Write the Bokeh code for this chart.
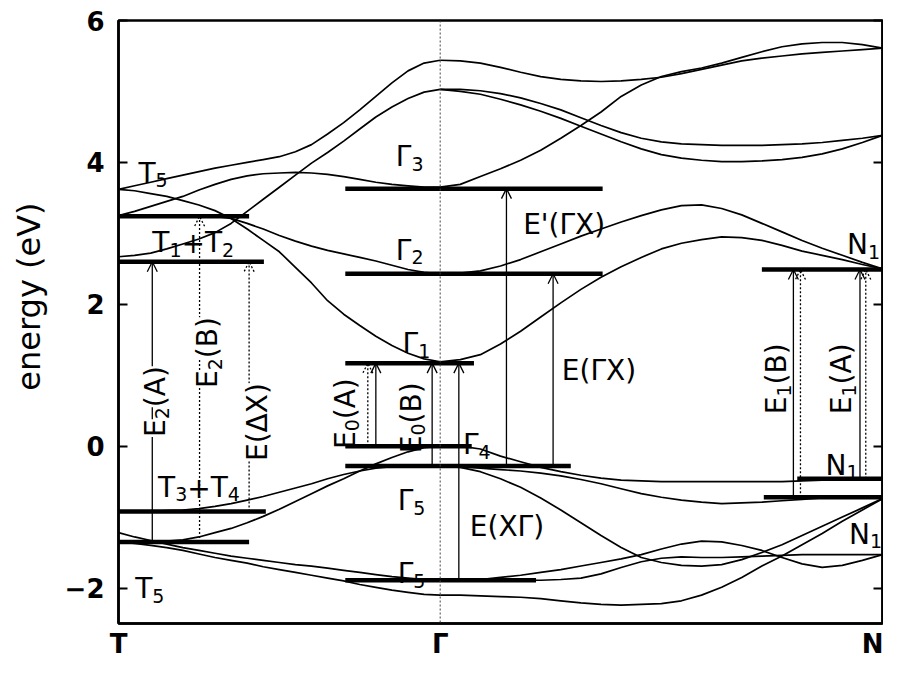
from math import pi
from bokeh.plotting import figure
from bokeh.models import Range1d, LinearAxis, FixedTicker, Label, Arrow, OpenHead, Span
from bokeh.embed import file_html
from bokeh.resources import INLINE

# ---------------- data ----------------
# k-path coordinate: T = 0, Gamma = 1, N = 2.375
k_TG = [0.0, 0.05, 0.1, 0.15, 0.2, 0.25, 0.3, 0.35, 0.4, 0.45, 0.5,
        0.55, 0.6, 0.65, 0.7, 0.75, 0.8, 0.85, 0.9, 0.95, 1.0]
k_GN = [1.0, 1.0625, 1.125, 1.1875, 1.25, 1.3125, 1.375, 1.4375, 1.5, 1.5625, 1.625, 1.6875,
        1.75, 1.8125, 1.875, 1.9375, 2.0, 2.0625, 2.125, 2.1875, 2.25, 2.3125, 2.375]
k_points = [0.0, 1.0, 2.375]
k_point_labels = ["T", "Γ", "N"]
energy_ticks = [-2, 0, 2, 4, 6]

# bands along T -> Gamma (eV)
tg_c1 = [2.67, 2.69, 2.72, 2.78, 2.85, 2.92, 3.01, 3.14, 3.31, 3.48, 3.65,
         3.82, 3.99, 4.14, 4.30, 4.47, 4.64, 4.78, 4.90, 4.99, 5.03]
tg_c2 = [3.62, 3.67, 3.72, 3.77, 3.82, 3.87, 3.92, 3.96, 4.00, 4.04, 4.08,
         4.15, 4.25, 4.40, 4.56, 4.74, 4.93, 5.12, 5.29, 5.40, 5.44]
tg_c3 = [3.62, 3.60, 3.56, 3.52, 3.46, 3.40, 3.32, 3.21, 3.06, 2.90, 2.74,
         2.52, 2.30, 2.05, 1.86, 1.70, 1.55, 1.42, 1.31, 1.23, 1.19]
tg_c4 = [3.25, 3.31, 3.38, 3.45, 3.52, 3.61, 3.69, 3.76, 3.81, 3.84, 3.85,
         3.86, 3.85, 3.83, 3.80, 3.76, 3.72, 3.69, 3.67, 3.65, 3.65]
tg_c5 = [3.25, 3.25, 3.25, 3.25, 3.25, 3.25, 3.24, 3.21, 3.14, 3.06, 2.97,
         2.89, 2.82, 2.76, 2.71, 2.66, 2.61, 2.55, 2.49, 2.45, 2.43]
tg_v1 = [-1.35, -1.35, -1.35, -1.34, -1.32, -1.28, -1.22, -1.16, -1.08, -0.99, -0.89,
         -0.78, -0.67, -0.56, -0.46, -0.35, -0.25, -0.16, -0.08, -0.02, 0.00]
tg_v2 = [-0.92, -0.92, -0.92, -0.91, -0.90, -0.88, -0.85, -0.81, -0.76, -0.71, -0.65,
         -0.59, -0.53, -0.46, -0.40, -0.35, -0.31, -0.29, -0.28, -0.28, -0.28]
tg_v3 = [-1.22, -1.28, -1.33, -1.38, -1.43, -1.47, -1.51, -1.55, -1.58, -1.61, -1.64,
         -1.67, -1.69, -1.72, -1.75, -1.78, -1.81, -1.84, -1.86, -1.88, -1.89]
tg_v4 = [-1.35, -1.37, -1.40, -1.43, -1.47, -1.52, -1.57, -1.61, -1.65, -1.70, -1.74,
         -1.78, -1.82, -1.86, -1.90, -1.95, -1.99, -2.03, -2.06, -2.09, -2.10]

# bands along Gamma -> N (eV)
gn_c1 = [1.19, 1.22, 1.29, 1.44, 1.62, 1.82, 2.02, 2.21, 2.38, 2.53, 2.66, 2.78,
         2.86, 2.91, 2.95, 2.94, 2.90, 2.83, 2.75, 2.69, 2.63, 2.56, 2.50]
gn_c2 = [2.43, 2.44, 2.47, 2.54, 2.63, 2.74, 2.85, 2.96, 3.06, 3.16, 3.25, 3.33,
         3.39, 3.40, 3.35, 3.26, 3.14, 3.02, 2.90, 2.79, 2.69, 2.59, 2.50]
gn_c3 = [3.65, 3.69, 3.80, 3.91, 4.03, 4.17, 4.34, 4.52, 4.71, 4.93, 5.09, 5.21,
         5.28, 5.33, 5.40, 5.48, 5.56, 5.63, 5.67, 5.69, 5.69, 5.66, 5.61]
gn_c4 = [5.44, 5.43, 5.40, 5.34, 5.27, 5.21, 5.17, 5.15, 5.14, 5.15, 5.17, 5.20,
         5.25, 5.31, 5.37, 5.43, 5.47, 5.50, 5.53, 5.55, 5.57, 5.59, 5.61]
gn_c5 = [5.03, 5.03, 5.01, 4.97, 4.91, 4.83, 4.74, 4.63, 4.52, 4.42, 4.34, 4.29,
         4.26, 4.25, 4.24, 4.24, 4.24, 4.25, 4.26, 4.28, 4.31, 4.34, 4.38]
gn_c6 = [5.03, 5.00, 4.96, 4.89, 4.81, 4.72, 4.62, 4.51, 4.40, 4.29, 4.19, 4.11,
         4.06, 4.03, 4.01, 4.01, 4.02, 4.04, 4.07, 4.12, 4.19, 4.28, 4.38]
gn_v1 = [0.00, 0.00, -0.04, -0.14, -0.22, -0.30, -0.36, -0.41, -0.45, -0.48, -0.49, -0.50,
         -0.50, -0.50, -0.50, -0.50, -0.50, -0.50, -0.49, -0.48, -0.47, -0.47, -0.46]
gn_v2 = [-0.28, -0.29, -0.31, -0.33, -0.35, -0.38, -0.42, -0.47, -0.53, -0.60, -0.67, -0.72,
         -0.76, -0.79, -0.81, -0.80, -0.79, -0.77, -0.75, -0.73, -0.72, -0.71, -0.71]
gn_v3 = [-0.28, -0.30, -0.36, -0.46, -0.58, -0.73, -0.90, -1.08, -1.26, -1.43, -1.57, -1.64,
         -1.68, -1.69, -1.67, -1.60, -1.50, -1.39, -1.26, -1.13, -1.00, -0.87, -0.74]
gn_v4 = [-1.89, -1.89, -1.88, -1.85, -1.82, -1.78, -1.74, -1.69, -1.64, -1.59, -1.53, -1.45,
         -1.38, -1.34, -1.35, -1.40, -1.47, -1.57, -1.66, -1.71, -1.68, -1.61, -1.53]
gn_v5 = [-2.10, -2.10, -2.11, -2.12, -2.13, -2.15, -2.18, -2.21, -2.23, -2.24, -2.23, -2.22,
         -2.18, -2.10, -1.99, -1.85, -1.69, -1.55, -1.39, -1.23, -1.06, -0.90, -0.74]
gn_v6 = [-1.89, -1.89, -1.89, -1.89, -1.89, -1.89, -1.88, -1.86, -1.80, -1.71, -1.63, -1.58,
         -1.56, -1.57, -1.57, -1.56, -1.55, -1.54, -1.53, -1.53, -1.53, -1.53, -1.53]

# marked levels (eV) and their k extent
level_E  = [3.24, 2.60, -0.92, -1.35, 3.63, 2.43, 1.17, 0.00, -0.28, -1.89, 2.49, -0.46, -0.72]
level_k0 = [0.0, 0.0, 0.0, 0.0, 0.705, 0.705, 0.705, 0.705, 0.705, 0.705, 2.0, 2.11, 2.006]
level_k1 = [0.406, 0.452, 0.458, 0.406, 1.505, 1.505, 1.105, 1.098, 1.406, 1.298, 2.375, 2.375, 2.375]

# transitions (arrows)
arrow_k    = [0.105, 0.252, 0.406, 0.775, 0.80, 0.975, 1.058, 1.206, 1.351, 2.098, 2.12, 2.305, 2.323]
arrow_from = [-1.35, -1.35, -0.92, 0.00, 0.00, -0.28, -1.89, -0.28, -0.28, -0.72, -0.72, -0.46, -0.46]
arrow_to   = [2.60, 3.24, 2.60, 1.17, 1.17, 1.17, 1.17, 3.63, 2.43, 2.49, 2.49, 2.49, 2.49]
arrow_dot  = [False, True, True, True, False, False, False, False, False, False, True, False, True]

FONT = "DejaVu Sans"
NB = "\u00a0"

p = figure(width=883, height=661, output_backend="svg", toolbar_location=None,
           x_range=Range1d(0, 2.375), y_range=Range1d(-2.5, 6))
p.min_border_left = 118
p.min_border_right = 1
p.min_border_top = 20
p.min_border_bottom = 37
p.background_fill_color = "white"
p.border_fill_color = "white"
p.outline_line_color = "black"
p.outline_line_width = 2.5
p.xgrid.visible = False
p.ygrid.visible = False

xa = p.xaxis[0]
xa.ticker = FixedTicker(ticks=k_points)
xa.major_label_overrides = {k: lab for k, lab in zip(k_points, k_point_labels)}
xa.major_tick_in = 0
xa.major_tick_out = 0
xa.minor_tick_in = 0
xa.minor_tick_out = 0
xa.axis_line_width = 2.5
xa.major_label_standoff = 5
xa.major_label_text_font = FONT
xa.major_label_text_font_size = "26px"
xa.major_label_text_font_style = "bold"
xa.major_label_text_color = "black"
xa.major_label_text_line_height = 0.9

ya = p.yaxis[0]
ya.ticker = FixedTicker(ticks=energy_ticks)
ya.major_tick_in = 9
ya.major_tick_out = 0
ya.minor_tick_in = 0
ya.minor_tick_out = 0
ya.major_tick_line_width = 2
ya.axis_line_width = 2.5
ya.major_label_standoff = 14
ya.major_label_text_font = FONT
ya.major_label_text_font_size = "26px"
ya.major_label_text_font_style = "bold"
ya.major_label_text_color = "black"
ya.axis_label = NB * 5 + "energy (eV)"
ya.axis_label_standoff = 14
ya.axis_label_text_font = FONT
ya.axis_label_text_font_size = "32px"
ya.axis_label_text_font_style = "normal"
ya.axis_label_text_color = "black"

ra = LinearAxis(ticker=FixedTicker(ticks=energy_ticks),
                major_label_overrides={t: "" for t in energy_ticks},
                major_tick_in=9, major_tick_out=0, minor_tick_in=0, minor_tick_out=0,
                major_tick_line_width=2, axis_line_width=2.5, major_label_standoff=0)
p.add_layout(ra, "right")

p.add_layout(Span(location=1.0, dimension="height", line_dash="2 2", line_width=1, line_color="#444444"))

for b in [tg_c1, tg_c2, tg_c3, tg_c4, tg_c5, tg_v1, tg_v2, tg_v3, tg_v4]:
    p.line(k_TG, b, line_color="black", line_width=1.7, line_join="round")
for b in [gn_c1, gn_c2, gn_c3, gn_c4, gn_c5, gn_c6, gn_v1, gn_v2, gn_v3, gn_v4, gn_v5, gn_v6]:
    p.line(k_GN, b, line_color="black", line_width=1.7, line_join="round")

p.segment(x0=level_k0, y0=level_E, x1=level_k1, y1=level_E, line_color="black", line_width=4.5)

for k, e0, e1, dot in zip(arrow_k, arrow_from, arrow_to, arrow_dot):
    dash = "2 2" if dot else "solid"
    head = OpenHead(size=10, line_width=1.3, line_color="black", line_dash=dash)
    p.add_layout(Arrow(end=head, x_start=k, y_start=e0, x_end=k, y_end=e1,
                       line_width=1.3, line_color="black", line_dash=dash))

WID = {'E': .632, '(': .39, ')': .39, 'A': .684, 'B': .686, 'Γ': .557, 'X': .685, 'Δ': .684,
       "'": .275, 'T': .611, '+': .838, 'N': .748}
for d in "0123456789":
    WID[d] = .636


def text_w(s, fs):
    return sum(WID.get(c, .6) for c in s) * fs


def add_text(parts, k, e, rot=False, fs=28, sfs=19, drop=7, bg=None):
    off = 0.0
    for s, sub in parts:
        f = sfs if sub else fs
        kw = dict(x=k, y=e, text=s, text_font=FONT, text_font_size=f"{f}px", text_color="black",
                  text_align="left", text_baseline="alphabetic")
        if bg:
            kw["background_fill_color"] = bg
        if rot:
            kw.update(angle=pi / 2, x_offset=(drop if sub else 0), y_offset=off)
        else:
            kw.update(x_offset=off, y_offset=(-drop if sub else 0))
        p.add_layout(Label(**kw))
        off += text_w(s, f)


# horizontal state labels
add_text([("T", 0), ("5", 1)], 0.062, 3.85)
add_text([("T", 0), ("1", 1), ("+", 0), ("T", 0), ("2", 1)], 0.105, 2.87)
add_text([("Γ", 0), ("3", 1)], 0.862, 4.08)
add_text([("Γ", 0), ("2", 1)], 0.862, 2.76)
add_text([("Γ", 0), ("1", 1)], 0.883, 1.44)
add_text([("Γ", 0), ("4", 1)], 1.071, 0.02)
add_text([("Γ", 0), ("5", 1)], 0.868, -0.77)
add_text([("Γ", 0), ("5", 1)], 0.868, -1.80)
add_text([("T", 0), ("3", 1), ("+", 0), ("T", 0), ("4", 1)], 0.123, -0.58)
add_text([("T", 0), ("5", 1)], 0.052, -2.01)
add_text([("N", 0), ("1", 1)], 2.265, 2.84)
add_text([("N", 0), ("1", 1)], 2.198, -0.27)
add_text([("N", 0), ("1", 1)], 2.271, -1.24)
add_text([("E(ΓX)", 0)], 1.378, 1.06)
add_text([("E'(ΓX)", 0)], 1.258, 3.13)
add_text([("E(XΓ)", 0)], 1.092, -1.13)

# rotated transition labels
add_text([("E", 0), ("2", 1), ("(A)", 0)], 0.114, 0.13, rot=True, bg="white")
add_text([("E", 0), ("2", 1), ("(B)", 0)], 0.277, 0.82, rot=True, bg="white")
add_text([("E(ΔX)", 0)], 0.431, -0.21, rot=True, bg="white")
add_text([("E", 0), ("0", 1), ("(A)", 0)], 0.705, -0.04, rot=True)
add_text([("E", 0), ("0", 1), ("(B)", 0)], 0.91, -0.10, rot=True)
add_text([("E", 0), ("1", 1), ("(B)", 0)], 2.046, 0.45, rot=True)
add_text([("E", 0), ("1", 1), ("(A)", 0)], 2.249, 0.45, rot=True)

open("out.html", "w").write(file_html(p, INLINE))
